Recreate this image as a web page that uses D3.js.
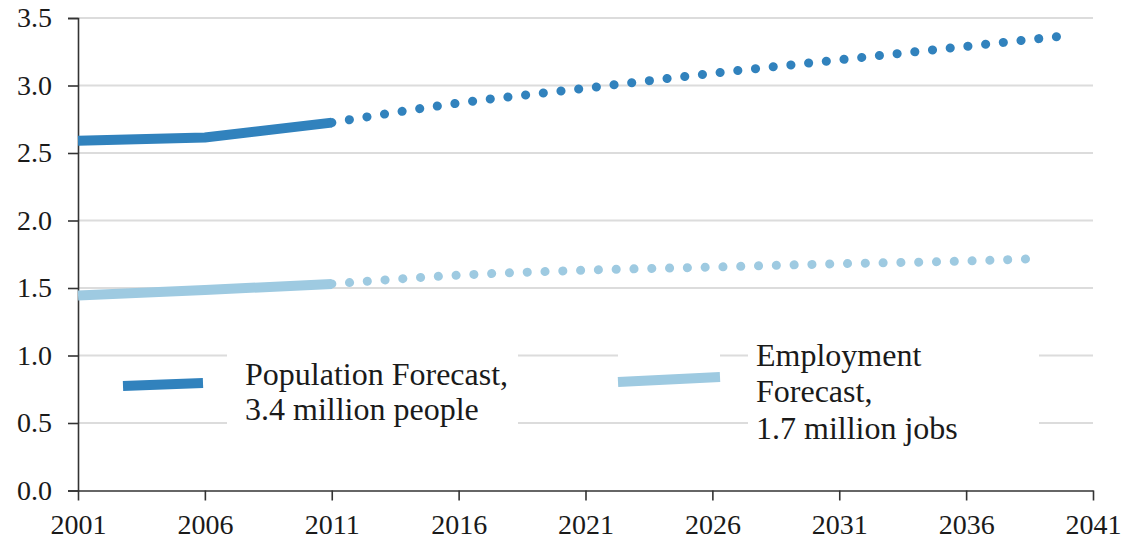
<!DOCTYPE html>
<html>
<head>
<meta charset="utf-8">
<script src="https://cdn.jsdelivr.net/npm/d3@7"></script>
<style>
  body { margin: 0; background: #fff; }
</style>
</head>
<body>
<div id="chart"></div>
<script>
// Observed values (millions)
const actualYears = [2001, 2006, 2011];
const popActual = [2.59, 2.615, 2.725];
const empActual = [1.445, 1.485, 1.53];

const popForecastYears = [2011, 2016, 2021, 2026, 2031, 2036, 2040];
const popForecast = [2.725, 2.87, 2.98, 3.09, 3.19, 3.29, 3.37];

const empForecastYears = [2011, 2016, 2021, 2026, 2031, 2036, 2038.4];
const empForecast = [1.53, 1.595, 1.632, 1.655, 1.68, 1.70, 1.715];

const xTicks = [2001, 2006, 2011, 2016, 2021, 2026, 2031, 2036, 2041];
const yTicks = [0, 0.5, 1.0, 1.5, 2.0, 2.5, 3.0, 3.5];

const popColor = "#3182bd";
const empColor = "#9ecae1";
const serif = "'Liberation Serif', 'DejaVu Serif', serif";

function renderChart() {
  const svg = d3.select("#chart")
    .append("svg")
    .attr("width", 1138)
    .attr("height", 539)
    .style("font-family", serif);

  // scales
  const x = d3.scaleLinear().domain([2001, 2041]).range([78, 1093]);
  const y = d3.scaleLinear().domain([0, 3.5]).range([490.5, 18]);

  // gridlines
  svg.append("g")
    .selectAll("line")
    .data(yTicks.filter(d => d > 0))
    .enter().append("line")
    .attr("x1", 78)
    .attr("x2", 1093)
    .attr("y1", d => y(d))
    .attr("y2", d => y(d))
    .attr("stroke", "#dcdcdc")
    .attr("stroke-width", 2);

  // white boxes behind the legend labels
  const boxes = [
    [227, 340, 291, 95],
    [748, 340, 291, 95],
    [618, 345, 102, 25]
  ];
  svg.append("g")
    .selectAll("rect")
    .data(boxes)
    .enter().append("rect")
    .attr("x", d => d[0])
    .attr("y", d => d[1])
    .attr("width", d => d[2])
    .attr("height", d => d[3])
    .attr("fill", "#fff");

  // y axis
  const yAxis = svg.append("g")
    .attr("transform", "translate(78,0)")
    .call(d3.axisLeft(y).tickValues(yTicks).tickFormat(d3.format(".1f")).tickSize(10).tickPadding(16));
  yAxis.attr("font-family", null);
  yAxis.select(".domain").attr("stroke", "#333").attr("stroke-width", 1.6);
  yAxis.selectAll(".tick line").attr("stroke", "#333").attr("stroke-width", 1.6);
  yAxis.selectAll("text")
    .style("font-family", serif)
    .style("font-size", "28px")
    .attr("fill", "#1a1a1a");

  // x axis
  const xAxis = svg.append("g")
    .attr("transform", "translate(0,490.5)")
    .call(d3.axisBottom(x).tickValues(xTicks).tickFormat(d3.format("d")).tickSize(10).tickSizeOuter(0).tickPadding(14));
  xAxis.attr("font-family", null);
  xAxis.select(".domain").attr("stroke", "#333").attr("stroke-width", 1.6);
  xAxis.selectAll(".tick line").attr("stroke", "#333").attr("stroke-width", 1.6);
  xAxis.selectAll("text")
    .style("font-family", serif)
    .style("font-size", "28px")
    .attr("fill", "#1a1a1a");

  const line = d3.line()
    .x(d => x(d[0]))
    .y(d => y(d[1]));

  // actual lines (solid)
  const solid = [
    [d3.zip(actualYears, popActual), popColor],
    [d3.zip(actualYears, empActual), empColor]
  ];
  svg.append("g")
    .selectAll("path")
    .data(solid)
    .enter().append("path")
    .attr("d", d => line(d[0]))
    .attr("fill", "none")
    .attr("stroke", d => d[1])
    .attr("stroke-width", 10)
    .attr("stroke-linejoin", "round");

  // forecast lines (dotted)
  const dotted = [
    [d3.zip(popForecastYears, popForecast), popColor],
    [d3.zip(empForecastYears, empForecast), empColor]
  ];
  svg.append("g")
    .selectAll("path")
    .data(dotted)
    .enter().append("path")
    .attr("d", d => line.curve(d3.curveMonotoneX)(d[0]))
    .attr("fill", "none")
    .attr("stroke", d => d[1])
    .attr("stroke-width", 9)
    .attr("stroke-linecap", "round")
    .attr("stroke-dasharray", "0.1,17.7");

  // legend
  const legend = svg.append("g");
  legend.append("line")
    .attr("x1", 123).attr("x2", 203)
    .attr("y1", 386).attr("y2", 383)
    .attr("stroke", popColor).attr("stroke-width", 10);
  legend.append("line")
    .attr("x1", 618).attr("x2", 720)
    .attr("y1", 382).attr("y2", 377)
    .attr("stroke", empColor).attr("stroke-width", 10);

  const popLabel = legend.append("text")
    .attr("y", 385)
    .style("font-family", serif)
    .style("font-size", "32px")
    .attr("fill", "#1a1a1a");
  popLabel.append("tspan").attr("x", 245).text("Population Forecast,");
  popLabel.append("tspan").attr("x", 245).attr("dy", 35).text("3.4 million people");

  const empLabel = legend.append("text")
    .attr("y", 366)
    .style("font-family", serif)
    .style("font-size", "32px")
    .attr("fill", "#1a1a1a");
  empLabel.append("tspan").attr("x", 756).text("Employment");
  empLabel.append("tspan").attr("x", 756).attr("dy", 36).text("Forecast,");
  empLabel.append("tspan").attr("x", 756).attr("dy", 37).text("1.7 million jobs");
}

document.addEventListener("DOMContentLoaded", function() {
  renderChart();
});
</script>
</body>
</html>
